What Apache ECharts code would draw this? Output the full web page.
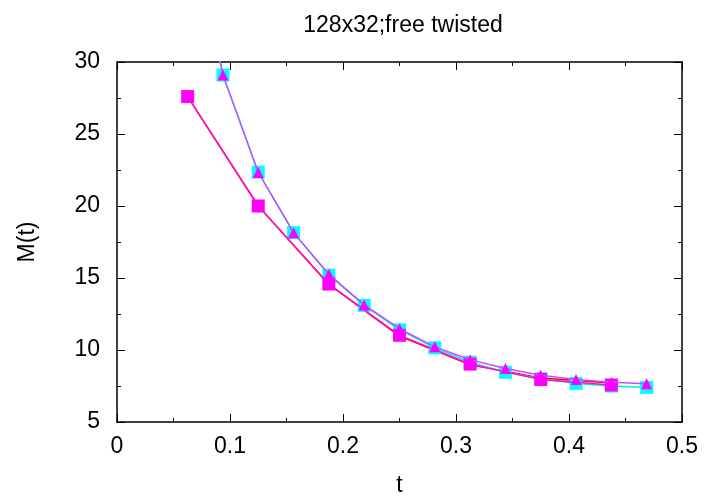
<!DOCTYPE html>
<html>
<head>
<meta charset="utf-8">
<script src="https://cdn.jsdelivr.net/npm/echarts@6/dist/echarts.min.js"></script>
<style>
  html, body { margin: 0; padding: 0; background: #fff; }
  #chart { width: 706px; height: 499px; }
</style>
</head>
<body>
<div id="chart"></div>
<script>
// t values (n/32)
const tEven = [0.0625, 0.125, 0.1875, 0.25, 0.3125, 0.375, 0.4375]
const tAll = [0.0625, 0.09375, 0.125, 0.15625, 0.1875, 0.21875, 0.25, 0.28125,
  0.3125, 0.34375, 0.375, 0.40625, 0.4375, 0.46875]

// series values
const redLine = [27.6, 20.0, 14.55, 10.96, 8.98, 8.05, 7.7]
const magentaSquares = [27.6, 20.0, 14.58, 11.02, 9.02, 7.95, 7.57]
const cyanSquares = [40.9, 29.1, 22.35, 18.15, 15.2, 13.1, 11.4, 10.15, 9.15, 8.45, 8.0, 7.68, 7.5, 7.4]
const triangles = [40.9, 29.1, 22.33, 18.15, 15.26, 13.13, 11.48, 10.22, 9.32, 8.72, 8.24, 7.95, 7.76, 7.66]

const xTicks = [0, 0.1, 0.2, 0.3, 0.4, 0.5]
const yTicks = [5, 10, 15, 20, 25, 30]

const pairs = (xs, ys) => xs.map((x, i) => [x, ys[i]])

const font = 'Liberation Sans'
const chart = echarts.init(document.getElementById('chart'))

const axisBase = {
  type: 'value',
  axisLine: { show: true, onZero: false, lineStyle: { color: '#000', width: 1.5 } },
  axisTick: { show: true, inside: true, length: 8, lineStyle: { color: '#000', width: 1 } },
  minorTick: { show: true, splitNumber: 2, length: 4, lineStyle: { color: '#000', width: 1 } },
  splitLine: { show: false }
}

chart.setOption({
  backgroundColor: '#fff',
  animation: false,
  title: {
    text: '128x32;free twisted',
    left: 398,
    textAlign: 'center',
    top: 9,
    textStyle: { fontFamily: font, fontSize: 23, fontWeight: 'normal', color: '#000' }
  },
  grid: { left: 117, right: 24, top: 62, bottom: 77, containLabel: false, outerBoundsMode: 'none' },
  xAxis: [
    Object.assign({}, axisBase, {
      min: xTicks[0], max: xTicks[xTicks.length - 1], interval: 0.1,
      position: 'bottom',
      name: 't', nameLocation: 'middle', nameGap: 52,
      nameTextStyle: { fontFamily: font, fontSize: 23, color: '#000' },
      axisLabel: { margin: 13, fontFamily: font, fontSize: 23, color: '#000' }
    }),
    Object.assign({}, axisBase, {
      min: xTicks[0], max: xTicks[xTicks.length - 1], interval: 0.1,
      position: 'top', axisLabel: { show: false }
    })
  ],
  yAxis: [
    Object.assign({}, axisBase, {
      min: yTicks[0], max: yTicks[yTicks.length - 1], interval: 5,
      position: 'left',
      name: 'M(t)', nameLocation: 'middle', nameGap: 78, nameRotate: 90,
      nameTextStyle: { fontFamily: font, fontSize: 23, color: '#000' },
      axisLabel: { margin: 17, fontFamily: font, fontSize: 23, color: '#000' }
    }),
    Object.assign({}, axisBase, {
      min: yTicks[0], max: yTicks[yTicks.length - 1], interval: 5,
      position: 'right', axisLabel: { show: false }
    })
  ],
  series: [
    {
      type: 'line',
      data: pairs(tEven, redLine),
      symbol: 'triangle', symbolSize: 5,
      itemStyle: { color: '#ff0000' },
      lineStyle: { color: '#ff0000', width: 1.5 },
      clip: true, z: 1
    },
    {
      type: 'line',
      data: pairs(tAll, cyanSquares),
      symbol: 'rect', symbolSize: 13,
      itemStyle: { color: '#00ffff' },
      lineStyle: { color: '#00e8ff', width: 1.5 },
      clip: true, z: 2
    },
    {
      type: 'line',
      data: pairs(tEven, magentaSquares),
      symbol: 'rect', symbolSize: 13,
      itemStyle: { color: '#ff00ff' },
      lineStyle: { color: '#ff10c8', width: 1.5 },
      clip: true, z: 3
    },
    {
      type: 'line',
      data: pairs(tAll, triangles),
      symbol: 'triangle', symbolSize: 11,
      itemStyle: { color: '#ff00ff' },
      lineStyle: { color: '#c050ff', width: 1.5 },
      clip: true, z: 4
    }
  ]
})
</script>
</body>
</html>
